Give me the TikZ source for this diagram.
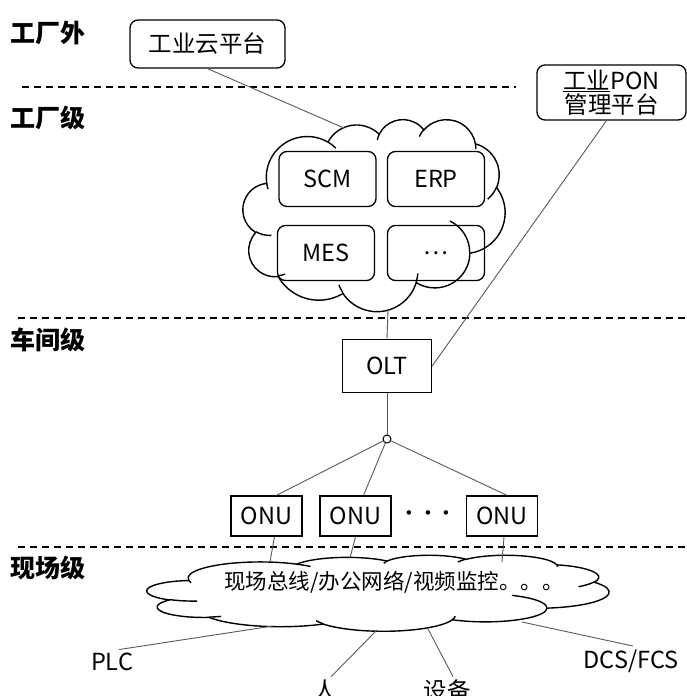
\documentclass[tikz,border=0pt]{standalone}
\usepackage{fontspec}
\setmainfont{Noto Sans CJK SC}
\usetikzlibrary{calc}

\tikzset{
  every box/.style={draw, line width=1.3pt, inner sep=0pt},
  round box/.style={every box, rounded corners=8pt},
  link/.style={draw=black!65, line width=0.9pt},
  layer line/.style={line width=1.4pt, dash pattern=on 7pt off 5pt},
  cloud line/.style={line width=1.4pt, line join=round},
  layer label/.style={anchor=west, font=\fontsize{25}{28}\selectfont\bfseries},
  % cloud outline, frame 432 x 432 units
  ppt cloud/.pic={
    \draw [cloud line] (39,143.7)
      \foreach \a/\b/\s/\w [evaluate={\s as \ta using atan2(\a*sin(\s),\b*cos(\s))},
                            evaluate={\w as \tb using atan2(\a*sin(\s+\w),\b*cos(\s+\w))},
                            evaluate={\w as \da using mod(\tb-\ta+720,360)}]
      in {67.53/91.90/-190.4875/123.7805, 53.33/72.67/-144.1024/89.9452,
          43.65/59.45/-145.8079/99.7230, 48.57/65.95/-130.9861/117.2417,
          53.33/72.73/-78.7089/109.0269, 67.75/92.20/-46.2673/130.2690,
          57.85/78.67/0.6250/114.0333, 67.52/92.15/22.4516/115.1726,
          77.20/105.43/66.2426/75.7110, 43.60/59.18/-274.9421/146.7356,
          43.45/59.45/-246.8285/152.5189}
      { arc [start angle=\ta, delta angle=\da, x radius=\a, y radius=\b] } -- cycle;
    \foreach \px/\py/\a/\b/\s/\w [evaluate={\s as \ta using atan2(\a*sin(\s),\b*cos(\s))},
                                  evaluate={\w as \tb using atan2(\a*sin(\s+\w),\b*cos(\s+\w))},
                                  evaluate={\w as \da using mod(\tb-\ta+720,360)}]
      in {46.93/261.77/43.45/59.45/86.7420/26.4295, 69.28/348.99/43.60/59.18/73.6105/11.4475,
          164.78/390.90/67.52/92.15/137.6242/14.0811, 288.27/347.51/67.52/92.15/6.4533/15.9984,
          341.29/229.54/57.85/78.67/-70.2924/70.9174, 417.98/153.54/53.33/72.73/30.3180/27.7515,
          383.24/54.26/48.57/65.95/-13.7443/14.8589, 290.78/39.52/48.57/65.95/-149.1815/18.1954,
          221.41/47.20/43.65/59.45/-163.4943/17.6864, 140.00/51.92/67.53/91.90/-66.7070/12.3194,
          41.27/157.89/67.53/91.90/157.6544/11.8582}
      \draw [cloud line] (\px,\py) arc [start angle=\ta, delta angle=\da, x radius=\a, y radius=\b];
  }
}

\begin{document}
\begin{tikzpicture}[x=1pt, y=-1pt, font=\fontsize{23.5}{24}\selectfont]
\useasboundingbox (0,0) rectangle (686,696);

\foreach \l/\y [count=\i] in {工厂外/33, 工厂级/118, 车间级/340, 现场级/568}
  \node [layer label] (layer-\i) at (7,\y) {\l};

\draw [layer line] (22,87) -- (516,87);
\draw [layer line] (18,318) -- (686,318);
\draw [layer line] (18,547) -- (686,547);

\node [round box, minimum width=155, minimum height=48] (yun) at (207.5,44) {工业云平台};
\node [round box, minimum width=149, minimum height=55, align=center] (pon) at (611.5,92.5)
  {\underline{工业}PON\\管理平台};

\foreach \l/\x/\y [count=\i] in {SCM/327.5/179, ERP/436/179, MES/326/253, \dots/436/253}
  \node [round box, minimum width=97, minimum height=55] (sys-\i) at (\x,\y) {\l};

% factory cloud
\begin{scope}[shift={(243,119)}, x=0.6065pt, y=-0.4444pt]
  \pic {ppt cloud};
\end{scope}
\coordinate (fab-in) at (344,128);
\coordinate (fab-out) at (388,310);

\node [every box, minimum width=89, minimum height=53] (olt) at (387,366) {OLT};
\node [circle, draw, line width=1pt, inner sep=0pt, minimum size=8] (split) at (387,439) {};

\foreach \x [count=\i] in {266.5, 355.5, 502}
  \node [every box, minimum width=71, minimum height=40] (onu-\i) at (\x,516) {ONU};
\node [scale=1.7] (onu-dots) at (428,514) {$\cdots$};

% field cloud
\begin{scope}[shift={(147,555)}, x=1.0694pt, y=-0.1759pt]
  \pic {ppt cloud};
\end{scope}
\node [font=\fontsize{21.5}{24}\selectfont] (field) at (394,582) {现场总线/办公网络/视频监控。。。};
\foreach \x/\y [count=\i] in {270/562, 350/558, 502/562}
  \coordinate (field-in-\i) at (\x,\y);

\node (plc) at (112,662) {PLC};
\node (ren) at (325,691) {人};
\node (dev) at (447,691) {设备};
\node (dcs) at (631,661) {DCS/FCS};
\coordinate (field-plc) at (273,626);
\coordinate (field-ren) at (377,630);
\coordinate (field-dev) at (428,629);
\coordinate (field-dcs) at (522,622);

\draw [link] (yun.south) -- (fab-in);
\draw [link] ([xshift=-5pt]pon.south) -- (olt.east);
\draw [link] (fab-out) -- (olt.north);
\draw [link] (olt.south) -- (split);

\foreach \s [count=\i] in {10pt, 8pt, 5pt}
  \draw [link] (split) -- ([xshift=\s]onu-\i.north);
\foreach \s [count=\i] in {8pt, 0pt, 2pt}
  \draw [link] ([xshift=\s]onu-\i.south) -- (field-in-\i);

\draw [link] (field-plc) -- ([xshift=7pt]plc.north);
\draw [link] (field-ren) -- ([xshift=6pt]ren.north);
\draw [link] (field-dev) -- ([xshift=6pt]dev.north);
\draw [link] (field-dcs) -- ([xshift=2pt]dcs.north);

\end{tikzpicture}
\end{document}
